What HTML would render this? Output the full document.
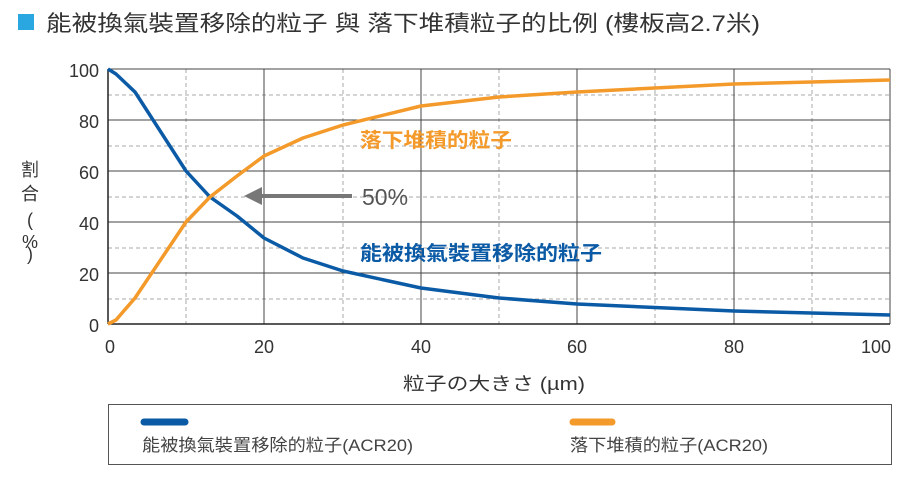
<!DOCTYPE html>
<html><head><meta charset="utf-8"><style>
body{margin:0;background:#fff;width:911px;height:475px;overflow:hidden;font-family:"Liberation Sans","Noto Sans CJK TC",sans-serif}
</style></head><body>
<svg width="911" height="475" xmlns="http://www.w3.org/2000/svg" font-family="Liberation Sans, Noto Sans CJK TC, sans-serif">
<rect x="18" y="14" width="16" height="16" fill="#2aa7e0"/>
<text x="46" y="31" font-size="22" fill="#333" textLength="714" lengthAdjust="spacingAndGlyphs">能被換氣裝置移除的粒子 與 落下堆積粒子的比例 (樓板高2.7米)</text>
<g stroke="#aaa" stroke-dasharray="4,3" stroke-width="1">
<line x1="108" y1="95" x2="890" y2="95"/><line x1="108" y1="146" x2="890" y2="146"/><line x1="108" y1="197" x2="890" y2="197"/><line x1="108" y1="248" x2="890" y2="248"/><line x1="108" y1="299" x2="890" y2="299"/>
<line x1="186" y1="69" x2="186" y2="324"/><line x1="343" y1="69" x2="343" y2="324"/><line x1="499" y1="69" x2="499" y2="324"/><line x1="655" y1="69" x2="655" y2="324"/><line x1="812" y1="69" x2="812" y2="324"/>
</g>
<g stroke="#444" stroke-width="1">
<line x1="108" y1="69" x2="890" y2="69"/><line x1="108" y1="120" x2="890" y2="120"/><line x1="108" y1="171" x2="890" y2="171"/><line x1="108" y1="222" x2="890" y2="222"/><line x1="108" y1="273" x2="890" y2="273"/>
<line x1="264" y1="69" x2="264" y2="324"/><line x1="421" y1="69" x2="421" y2="324"/><line x1="577" y1="69" x2="577" y2="324"/><line x1="734" y1="69" x2="734" y2="324"/><line x1="890" y1="69" x2="890" y2="324"/>
</g>
<g stroke="#222" stroke-width="1.5"><line x1="108" y1="69" x2="108" y2="324"/><line x1="108" y1="324" x2="890" y2="324"/></g>
<g font-size="18" fill="#333" text-anchor="end">
<text x="99" y="77">100</text><text x="99" y="128">80</text><text x="99" y="179">60</text><text x="99" y="230">40</text><text x="99" y="281">20</text><text x="99" y="332">0</text>
</g>
<g font-size="18" fill="#333" text-anchor="middle">
<text x="110" y="353">0</text><text x="264" y="353">20</text><text x="421" y="353">40</text><text x="577" y="353">60</text><text x="734" y="353">80</text><text x="876" y="353">100</text>
<text x="30" y="176">割</text><text x="30" y="200">合</text><text x="30" y="226">(</text><text x="30" y="248">%</text><text x="30" y="260">)</text>
</g>
<text x="403" y="390" font-size="18" fill="#333" textLength="182" lengthAdjust="spacingAndGlyphs">粒子の大きさ (µm)</text>
<path d="M108,69 L116,74 L135,92 L186,171 L210,197 L237,216 L264,238 L303,258 L343,271 L421,288 L499,298 L577,304 L734,311 L890,315" fill="none" stroke="#0a5aa5" stroke-width="3.5" stroke-linejoin="round"/>
<path d="M108,324 L116,320 L135,298 L186,222 L210,197 L237,176 L264,156 L303,138 L343,125 L421,106 L499,97 L577,92 L734,84 L890,80" fill="none" stroke="#f39a2a" stroke-width="3.5" stroke-linejoin="round"/>
<line x1="262" y1="196" x2="352" y2="196" stroke="#777" stroke-width="4"/>
<polygon points="244,196 262,187 262,205" fill="#777"/>
<text x="362" y="205" font-size="23" fill="#555">50%</text>
<text x="360" y="147" font-size="20" fill="#f39a2a" font-weight="bold" textLength="152" lengthAdjust="spacingAndGlyphs">落下堆積的粒子</text>
<text x="360" y="260" font-size="20" fill="#0a5aa5" font-weight="bold" textLength="242" lengthAdjust="spacingAndGlyphs">能被換氣裝置移除的粒子</text>
<rect x="108.5" y="404.5" width="783" height="60" fill="none" stroke="#555"/>
<line x1="144" y1="422" x2="185" y2="422" stroke="#0a5aa5" stroke-width="7" stroke-linecap="round"/>
<line x1="573" y1="422" x2="612" y2="422" stroke="#f39a2a" stroke-width="7" stroke-linecap="round"/>
<text x="142" y="451" font-size="17" fill="#444" textLength="271" lengthAdjust="spacingAndGlyphs">能被換氣裝置移除的粒子(ACR20)</text>
<text x="570" y="451" font-size="17" fill="#444" textLength="198" lengthAdjust="spacingAndGlyphs">落下堆積的粒子(ACR20)</text>
</svg>
</body></html>
